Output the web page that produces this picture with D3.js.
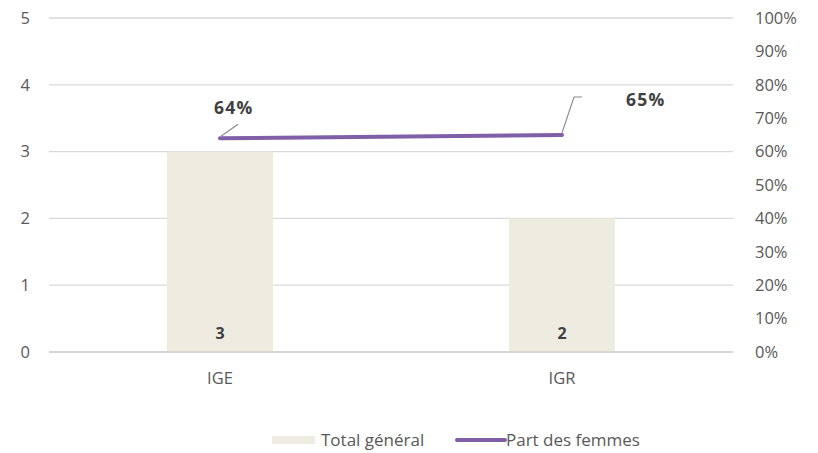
<!DOCTYPE html>
<html><head><meta charset="utf-8">
<script src="https://cdn.jsdelivr.net/npm/d3@7"></script>
<style>body{margin:0;background:#fff}svg{display:block;font-family:"Open Sans",sans-serif}</style>
</head><body><svg id="c" width="818" height="453"></svg>
<script>
const categories = ["IGE", "IGR"];
const totals = [3, 2];
const partFemmes = [0.64, 0.65];
const leftTicks = [0, 1, 2, 3, 4, 5];
const rightTicks = [0, 0.1, 0.2, 0.3, 0.4, 0.5, 0.6, 0.7, 0.8, 0.9, 1];
const seriesNames = ["Total général", "Part des femmes"];

const svg = d3.select("#c");
const L = 49, R = 733, T = 18, B = 352;
const x = d3.scaleBand().domain(categories).range([L, R]).paddingInner(0.69).paddingOuter(0.345);
const y = d3.scaleLinear().domain([0, 5]).range([B, T]);
const y2 = d3.scaleLinear().domain([0, 1]).range([B, T]);
const txt = "#595959";
const fs = "16.5px";

// grid
svg.append("g").selectAll("line").data(leftTicks).join("line")
  .attr("x1", L).attr("x2", R).attr("y1", d => y(d)).attr("y2", d => y(d))
  .attr("stroke", "#d9d9d9").attr("stroke-width", 1.3);

// left axis
const ga = svg.append("g").attr("transform", `translate(${L},0)`)
  .call(d3.axisLeft(y).tickValues(leftTicks).tickSize(0).tickPadding(19).tickFormat(d3.format("d")));
ga.select(".domain").remove();
ga.selectAll("text").attr("fill", txt).style("font-size", fs).style("font-family", "'Open Sans',sans-serif");

// right axis
const gr = svg.append("g").attr("transform", `translate(${R},0)`)
  .call(d3.axisRight(y2).tickValues(rightTicks).tickSize(0).tickPadding(22).tickFormat(d3.format(".0%")));
gr.select(".domain").remove();
gr.selectAll("text").attr("fill", txt).style("font-size", fs).style("font-family", "'Open Sans',sans-serif");

// bottom axis
const gb = svg.append("g").attr("transform", `translate(0,${B})`)
  .call(d3.axisBottom(x).tickSize(0).tickPadding(20));
gb.select(".domain").remove();
gb.selectAll("text").attr("fill", txt).style("font-size", fs).style("font-family", "'Open Sans',sans-serif");

// bars
svg.append("g").selectAll("rect").data(totals).join("rect")
  .attr("x", (d, i) => x(categories[i])).attr("width", x.bandwidth())
  .attr("y", d => y(d)).attr("height", d => B - y(d))
  .attr("fill", "#eeebe1");

// baseline
svg.append("line").attr("x1", L).attr("x2", R).attr("y1", B).attr("y2", B)
  .attr("stroke", "#d0d0d0").attr("stroke-width", 1.5);

// bar labels
svg.append("g").selectAll("text").data(totals).join("text")
  .attr("x", (d, i) => x(categories[i]) + x.bandwidth() / 2).attr("y", B - 13)
  .attr("text-anchor", "middle").attr("fill", "#404040")
  .style("font-size", "16px").style("font-weight", "bold").text(d => d);

// line
const cx = (i) => x(categories[i]) + x.bandwidth() / 2;
svg.append("path").datum(partFemmes)
  .attr("d", d3.line().x((d, i) => cx(i)).y(d => y2(d)))
  .attr("fill", "none").attr("stroke", "#7f5fa8").attr("stroke-width", 4).attr("stroke-linecap", "round");

// leader lines & labels
const lead = "#8c8c8c";
svg.append("path").attr("d", `M${cx(0)+1},${y2(partFemmes[0])-2} L${cx(0)+18},${y2(partFemmes[0])-14}`)
  .attr("stroke", lead).attr("stroke-width", 1.2).attr("fill", "none");
svg.append("text").attr("x", cx(0) - 6).attr("y", 114).attr("fill", "#404040")
  .style("font-size", "17.5px").style("font-weight", "bold").style("letter-spacing", "1.3px").text(d3.format(".0%")(partFemmes[0]));
svg.append("path").attr("d", `M${cx(1)},${y2(partFemmes[1])-2} L${cx(1)+12},${97} L${cx(1)+20},${97}`)
  .attr("stroke", lead).attr("stroke-width", 1.2).attr("fill", "none");
svg.append("text").attr("x", cx(1) + 64).attr("y", 106).attr("fill", "#404040")
  .style("font-size", "17.5px").style("font-weight", "bold").style("letter-spacing", "1.3px").text(d3.format(".0%")(partFemmes[1]));

// legend
const lg = svg.append("g");
lg.append("rect").attr("x", 272).attr("y", 436).attr("width", 43).attr("height", 8).attr("fill", "#eeebe1");
lg.append("text").attr("x", 321).attr("y", 446).attr("fill", txt).style("font-size", "17px").text(seriesNames[0]);
lg.append("line").attr("x1", 457).attr("x2", 505).attr("y1", 440).attr("y2", 440)
  .attr("stroke", "#7f5fa8").attr("stroke-width", 4).attr("stroke-linecap", "round");
lg.append("text").attr("x", 506).attr("y", 446).attr("fill", txt).style("font-size", "17px").text(seriesNames[1]);
</script></body></html>
